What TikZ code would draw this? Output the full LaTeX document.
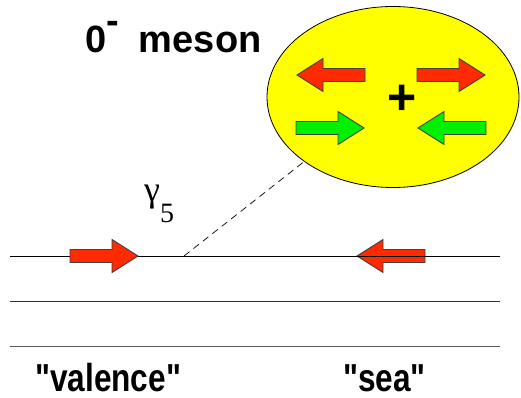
\documentclass[tikz,border=0pt]{standalone}
\usepackage{fontspec}
\setmainfont{Liberation Sans}
\newfontfamily\tagfont{Liberation Sans}
\newfontfamily\greekfont{Liberation Serif}
\usetikzlibrary{shapes.geometric}
\definecolor{spinred}{RGB}{255,42,0}
\definecolor{spingreen}{RGB}{0,240,0}
\definecolor{mesonyellow}{RGB}{255,255,0}
% block arrow: fill, tail x, tail y, direction (+1 right, -1 left)
\newcommand{\spin}[4]{%
  \draw[spinbox, fill=#1, shift={(#2,#3)}, xscale=#4]
    (0,-6.5) -- (42,-6.5) -- (42,-16.5) -- (68,0) -- (42,16.5) -- (42,6.5) -- (0,6.5) -- cycle;}

\begin{document}
\begin{tikzpicture}[
  x=1pt, y=-1pt,
  spinbox/.style={draw=black!75, line width=0.9pt, line join=miter},
  quark/.style={line width=0.8pt},
  label/.style={font=\bfseries\fontsize{38}{38}\selectfont, inner sep=0pt},
  tag/.style={font=\tagfont\bfseries\fontsize{39}{39}\selectfont, inner sep=0pt}
]
\useasboundingbox (0,0) rectangle (521,398);

% meson bubble
\node[ellipse, draw, line width=0.8pt, fill=mesonyellow, minimum width=252pt,
      minimum height=181pt, inner sep=0pt] (meson) at (393,97) {};
\spin{spinred}{365}{75}{-1}
\spin{spinred}{417}{75}{1}
\spin{spingreen}{296}{128}{1}
\spin{spingreen}{486}{128}{-1}
\node[font=\bfseries\fontsize{50}{50}\selectfont, inner sep=0pt] (plus) at (402,100) {+};
\node[label, anchor=base west] (title) at (85,53) {0\raisebox{19pt}{-}\hspace{20pt}meson};

% quark lines
\spin{spinred}{425}{256}{-1}
\draw[quark] (10,256) -- (500,256);
\draw[quark, black!80] (10,301.5) -- (500,301.5);
\draw[quark, black!65] (10,346.5) -- (500,346.5);
\spin{spinred}{70}{256}{1}

% gamma_5 insertion
\coordinate (vertex) at (184,256);
\draw[dashed, line width=0.7pt, dash pattern=on 7pt off 5pt] (vertex) -- (meson.216);
\node[anchor=base west, inner sep=0pt] (gamma) at (144,201)
  {\greekfont\fontsize{36}{36}\selectfont γ\raisebox{-21pt}{\fontsize{28}{28}\selectfont 5}};

\node[tag, anchor=base west] (valence) at (35,391) {\scalebox{0.81}[1]{"valence"}};
\node[tag, anchor=base west] (sea) at (343,391) {\scalebox{0.81}[1]{"sea"}};
\end{tikzpicture}
\end{document}
